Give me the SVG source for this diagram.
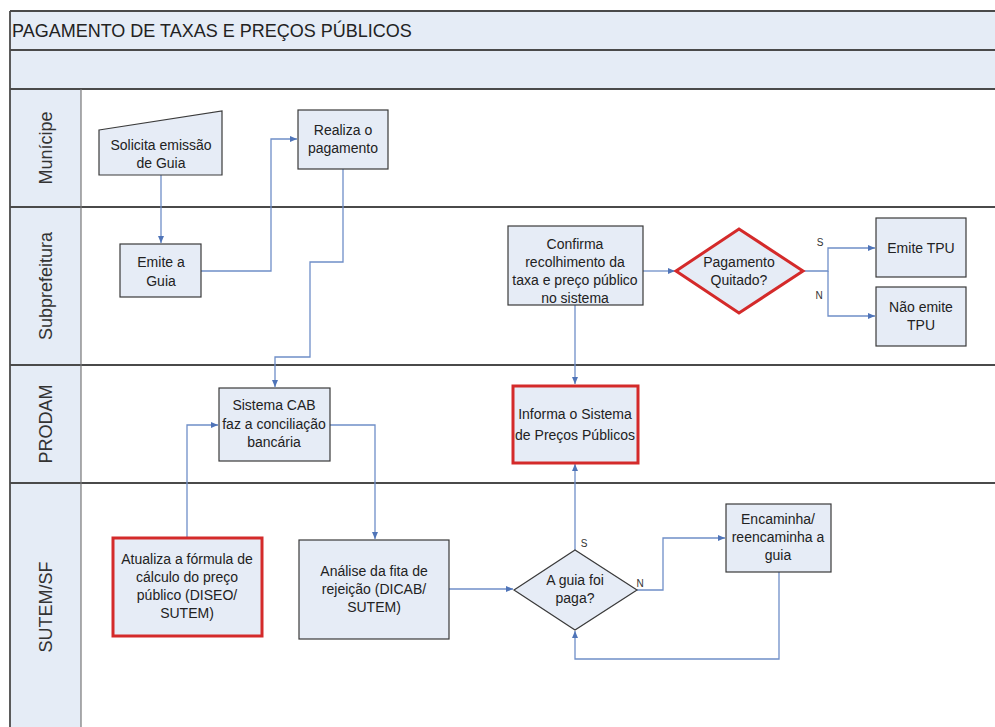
<svg xmlns="http://www.w3.org/2000/svg" width="995" height="727" viewBox="0 0 995 727">
<style>
text{font-family:"Liberation Sans",Arial,sans-serif;fill:#222;}
.t{font-size:14px;text-anchor:middle;}
.lbl{font-size:18px;text-anchor:middle;fill:#333;}
.yn{font-size:10px;text-anchor:middle;fill:#333;}
.node{fill:#e6ecf6;stroke:#3a3a3a;stroke-width:1.2;}
.red{fill:#e6ecf6;stroke:#d42a2a;stroke-width:3;}
.conn{fill:none;stroke:#6f8ec8;stroke-width:1.3;}
.sep{stroke:#4a4a4a;stroke-width:1.8;}
</style>
<defs>
<marker id="ah" markerWidth="8" markerHeight="8" refX="7" refY="4" orient="auto" markerUnits="userSpaceOnUse">
<path d="M0,1 L7,4 L0,7 z" fill="#4f74b8"/>
</marker>
</defs>
<rect width="995" height="727" fill="#fff"/>
<g id="frame">
<rect x="10" y="11" width="990" height="78" fill="#e5ecf6"/>
<rect x="10" y="89" width="71" height="640" fill="#e5ecf6"/>
<line class="sep" x1="10" y1="11" x2="995" y2="11"/>
<line class="sep" x1="10" y1="50" x2="995" y2="50"/>
<line class="sep" x1="10" y1="89" x2="995" y2="89"/>
<line class="sep" x1="10" y1="207" x2="995" y2="207"/>
<line class="sep" x1="10" y1="365" x2="995" y2="365"/>
<line class="sep" x1="10" y1="483" x2="995" y2="483"/>
<line class="sep" x1="10" y1="11" x2="10" y2="727"/>
<line stroke="#777" stroke-width="1.2" x1="81" y1="89" x2="81" y2="727"/>
<text x="12" y="37" style="font-size:18px;">PAGAMENTO DE TAXAS E PREÇOS PÚBLICOS</text>
</g>
<g id="lane-municipe"><text class="lbl" transform="translate(52,148) rotate(-90)">Munícipe</text></g>
<g id="lane-subprefeitura"><text class="lbl" transform="translate(52,286) rotate(-90)">Subprefeitura</text></g>
<g id="lane-prodam"><text class="lbl" transform="translate(52,424) rotate(-90)">PRODAM</text></g>
<g id="lane-sutem"><text class="lbl" transform="translate(52,607) rotate(-90)">SUTEM/SF</text></g>

<g id="connectors">
<path class="conn" d="M161,175 V243" marker-end="url(#ah)"/>
<path class="conn" d="M201,271 H271 V139 H297" marker-end="url(#ah)"/>
<path class="conn" d="M343,169 V262 H310 V357 H275 V387" marker-end="url(#ah)"/>
<path class="conn" d="M187,537 V425 H218" marker-end="url(#ah)"/>
<path class="conn" d="M330,425 H375 V539" marker-end="url(#ah)"/>
<path class="conn" d="M449,589 H513" marker-end="url(#ah)"/>
<path class="conn" d="M575,550 V464" marker-end="url(#ah)"/>
<path class="conn" d="M637,590 H663 V538 H725" marker-end="url(#ah)"/>
<path class="conn" d="M779,572 V659 H575 V631" marker-end="url(#ah)"/>
<path class="conn" d="M575,305 V384" marker-end="url(#ah)"/>
<path class="conn" d="M643,271 H675" marker-end="url(#ah)"/>
<path class="conn" d="M803,271 H828 V248 H875" marker-end="url(#ah)"/>
<path class="conn" d="M828,271 V316 H875" marker-end="url(#ah)"/>
<text class="yn" x="820" y="246">S</text>
<text class="yn" x="819" y="299">N</text>
<text class="yn" x="584" y="547">S</text>
<text class="yn" x="640" y="587">N</text>
</g>

<g id="n-solicita">
<polygon class="node" points="99,130 222,111 222,175 99,175"/>
<text class="t" x="161" y="150">Solicita emissão</text>
<text class="t" x="161" y="168">de Guia</text>
</g>
<g id="n-realiza">
<rect class="node" x="298" y="110" width="90" height="59"/>
<text class="t" x="343" y="135">Realiza o</text>
<text class="t" x="343" y="153">pagamento</text>
</g>
<g id="n-emite-guia">
<rect class="node" x="120" y="244" width="81" height="53"/>
<text class="t" x="161" y="267">Emite a</text>
<text class="t" x="161" y="286">Guia</text>
</g>
<g id="n-confirma">
<rect class="node" x="508" y="226" width="135" height="79"/>
<text class="t" x="575" y="249">Confirma</text>
<text class="t" x="575" y="267">recolhimento da</text>
<text class="t" x="575" y="285">taxa e preço público</text>
<text class="t" x="575" y="303">no sistema</text>
</g>
<g id="n-quitado">
<polygon class="red" points="676,271 739,229 803,271 739,313"/>
<text class="t" x="739" y="267">Pagamento</text>
<text class="t" x="739" y="285">Quitado?</text>
</g>
<g id="n-emite-tpu">
<rect class="node" x="876" y="218" width="90" height="59"/>
<text class="t" x="921" y="253">Emite TPU</text>
</g>
<g id="n-nao-emite">
<rect class="node" x="876" y="287" width="90" height="59"/>
<text class="t" x="921" y="312">Não emite</text>
<text class="t" x="921" y="330">TPU</text>
</g>
<g id="n-cab">
<rect class="node" x="219" y="388" width="111" height="73"/>
<text class="t" x="274" y="410">Sistema CAB</text>
<text class="t" x="274" y="429">faz a conciliação</text>
<text class="t" x="274" y="447">bancária</text>
</g>
<g id="n-informa">
<rect class="red" x="513" y="386" width="125" height="77"/>
<text class="t" x="575" y="419">Informa o Sistema</text>
<text class="t" x="575" y="440">de Preços Públicos</text>
</g>
<g id="n-atualiza">
<rect class="red" x="113" y="538" width="149" height="98"/>
<text class="t" x="187" y="564">Atualiza a fórmula de</text>
<text class="t" x="187" y="582">cálculo do preço</text>
<text class="t" x="187" y="600">público (DISEO/</text>
<text class="t" x="187" y="618">SUTEM)</text>
</g>
<g id="n-analise">
<rect class="node" x="299" y="540" width="150" height="99"/>
<text class="t" x="374" y="576">Análise da fita de</text>
<text class="t" x="374" y="594">rejeição (DICAB/</text>
<text class="t" x="374" y="612">SUTEM)</text>
</g>
<g id="n-paga">
<polygon class="node" points="514,590 575,550 637,590 575,630"/>
<text class="t" x="575" y="585">A guia foi</text>
<text class="t" x="575" y="603">paga?</text>
</g>
<g id="n-encaminha">
<rect class="node" x="726" y="504" width="105" height="68"/>
<text class="t" x="778" y="524">Encaminha/</text>
<text class="t" x="778" y="542">reencaminha a</text>
<text class="t" x="778" y="560">guia</text>
</g>
</svg>
